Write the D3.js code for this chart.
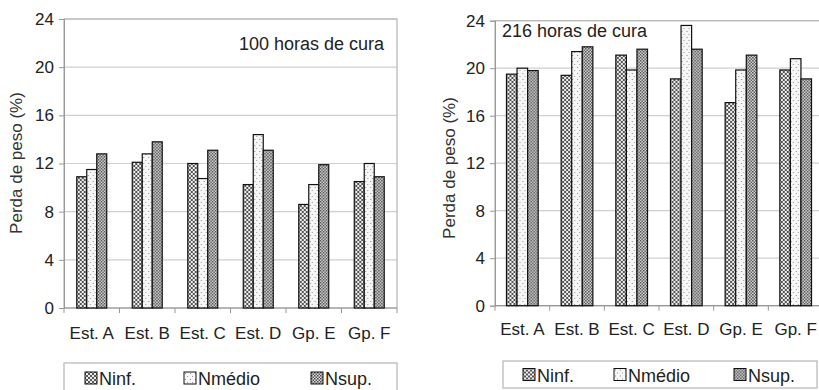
<!DOCTYPE html>
<html>
<head>
<meta charset="utf-8">
<script src="https://cdn.jsdelivr.net/npm/d3@7"></script>
<style>
  body { margin: 0; background: #fff; }
  svg { font-family: "Liberation Sans", Arial, sans-serif; }
  .tick text { fill: #222; }
</style>
</head>
<body>
<div id="chart"></div>
<script>
var width = 819, height = 390;

var categories = ['Est. A', 'Est. B', 'Est. C', 'Est. D', 'Gp. E', 'Gp. F'];
var series = ['Ninf.', 'Nmédio', 'Nsup.'];
var yTicks = [0, 4, 8, 12, 16, 20, 24];

// 100 horas de cura
var ninf100 = [10.9, 12.1, 12.0, 10.25, 8.6, 10.5];
var nmedio100 = [11.5, 12.8, 10.75, 14.4, 10.25, 12.0];
var nsup100 = [12.8, 13.8, 13.1, 13.1, 11.9, 10.9];

// 216 horas de cura
var ninf216 = [19.5, 19.4, 21.1, 19.1, 17.1, 19.85];
var nmedio216 = [20.0, 21.4, 19.85, 23.6, 19.85, 20.8];
var nsup216 = [19.8, 21.8, 21.6, 21.6, 21.1, 19.1];

var font = '"Liberation Sans", Arial, sans-serif';

var svg = d3.select('#chart').append('svg')
  .attr('width', width)
  .attr('height', height);

// hatch fills
var defs = svg.append('defs');
var p1 = defs.append('pattern').attr('id', 'pat0')
  .attr('patternUnits', 'userSpaceOnUse').attr('width', 4).attr('height', 4);
p1.append('rect').attr('width', 4).attr('height', 4).attr('fill', '#eee');
p1.append('path').attr('d', 'M-1,1 L1,-1 M0,4 L4,0 M3,5 L5,3 M-1,3 L1,5 M0,0 L4,4 M3,-1 L5,1')
  .attr('stroke', '#555').attr('stroke-width', 1);

var p2 = defs.append('pattern').attr('id', 'pat1')
  .attr('patternUnits', 'userSpaceOnUse').attr('width', 5).attr('height', 6);
p2.append('rect').attr('width', 5).attr('height', 6).attr('fill', '#f6f6f6');
p2.append('rect').attr('x', 1).attr('y', 1).attr('width', 1).attr('height', 1).attr('fill', '#888');
p2.append('rect').attr('x', 3).attr('y', 4).attr('width', 1).attr('height', 1).attr('fill', '#999');

var p3 = defs.append('pattern').attr('id', 'pat2')
  .attr('patternUnits', 'userSpaceOnUse').attr('width', 3).attr('height', 3);
p3.append('rect').attr('width', 3).attr('height', 3).attr('fill', '#e0e0e0');
p3.append('rect').attr('width', 1.5).attr('height', 1.5).attr('fill', '#444');
p3.append('rect').attr('x', 1.5).attr('y', 1.5).attr('width', 1.5).attr('height', 1.5).attr('fill', '#555');

function drawPanel(cfg) {
  var g = svg.append('g');
  var x = d3.scaleBand().domain(categories)
    .range([cfg.left, cfg.right])
    .paddingInner(cfg.pad).paddingOuter(cfg.pad / 2);
  var x1 = d3.scaleBand().domain(series).range([0, x.bandwidth()]);
  var y = d3.scaleLinear().domain([0, 24]).range([cfg.bottom, cfg.top]);

  // grid
  g.append('g').selectAll('line')
    .data(yTicks.slice(1)).enter()
    .append('line')
      .attr('x1', cfg.left).attr('x2', cfg.right)
      .attr('y1', function(d) {return y(d);})
      .attr('y2', function(d) {return y(d);})
      .attr('stroke', '#cfcfcf').attr('stroke-width', 1.2);

  g.append('rect')
    .attr('x', cfg.left).attr('y', cfg.top)
    .attr('width', cfg.right - cfg.left).attr('height', cfg.bottom - cfg.top)
    .attr('fill', 'none').attr('stroke', '#b5b5b5').attr('stroke-width', 1.2);

  // y axis
  var yAxis = g.append('g')
    .attr('transform', 'translate(' + cfg.left + ',0)')
    .call(d3.axisLeft(y).tickValues(yTicks).tickSize(5).tickPadding(5))
    .attr('font-family', font);
  yAxis.select('.domain').attr('stroke', '#999');
  yAxis.selectAll('.tick line').attr('stroke', '#999');
  yAxis.selectAll('text').attr('font-size', 17);

  // x axis: line, boundary ticks, labels
  g.append('line')
    .attr('x1', cfg.left).attr('x2', cfg.right)
    .attr('y1', cfg.bottom).attr('y2', cfg.bottom)
    .attr('stroke', '#999').attr('stroke-width', 1.2);
  g.append('g').selectAll('line')
    .data(d3.range(categories.length + 1)).enter()
    .append('line')
      .attr('x1', function(i) {return cfg.left + i * x.step();})
      .attr('x2', function(i) {return cfg.left + i * x.step();})
      .attr('y1', cfg.bottom).attr('y2', cfg.bottom + 5)
      .attr('stroke', '#999');
  var xAxis = g.append('g')
    .attr('transform', 'translate(0,' + cfg.bottom + ')')
    .call(d3.axisBottom(x).tickSize(0).tickPadding(cfg.xPad))
    .attr('font-family', font);
  xAxis.select('.domain').remove();
  xAxis.selectAll('text').attr('font-size', 17);

  // bars
  var rows = categories.map(function(c, i) {
    return {cat: c, vals: [cfg.data[0][i], cfg.data[1][i], cfg.data[2][i]]};
  });
  var grp = g.append('g').selectAll('g')
    .data(rows).enter()
    .append('g').attr('transform', function(d) {return 'translate(' + x(d.cat) + ',0)';});
  grp.selectAll('rect')
    .data(function(d) {return d.vals;}).enter()
    .append('rect')
      .attr('x', function(d, i) {return x1(series[i]);})
      .attr('width', x1.bandwidth())
      .attr('y', function(d) {return y(d);})
      .attr('height', function(d) {return y(0) - y(d);})
      .attr('fill', function(d, i) {return 'url(#pat' + i + ')';})
      .attr('stroke', '#111').attr('stroke-width', 1.2);

  // title
  g.append('text')
    .attr('x', cfg.titleX).attr('y', cfg.titleY)
    .attr('text-anchor', cfg.titleAnchor)
    .attr('font-size', 18).attr('fill', '#222')
    .text(cfg.title);

  // y label
  g.append('text')
    .attr('transform', 'translate(' + cfg.labelX + ',' + cfg.labelY + ') rotate(-90)')
    .attr('text-anchor', 'middle')
    .attr('font-size', 17).attr('fill', '#333')
    .text('Perda de peso (%)');

  // legend
  var lg = g.append('g');
  lg.append('rect')
    .attr('x', cfg.legend.x).attr('y', cfg.legend.y)
    .attr('width', cfg.legend.w).attr('height', cfg.legend.h)
    .attr('fill', '#fff').attr('stroke', '#b5b5b5').attr('stroke-width', 1.2);
  var item = lg.selectAll('g')
    .data(series).enter()
    .append('g').attr('transform', function(d, i) {
      return 'translate(' + cfg.legend.items[i] + ',' + (cfg.legend.y + cfg.legend.h / 2) + ')';
    });
  item.append('rect')
    .attr('x', 0).attr('y', -6).attr('width', 12).attr('height', 12)
    .attr('fill', function(d, i) {return 'url(#pat' + i + ')';})
    .attr('stroke', '#111');
  item.append('text')
    .attr('x', 14).attr('y', 7)
    .attr('font-size', 18).attr('fill', '#222')
    .text(function(d) {return d;});
}

drawPanel({
  left: 64, right: 397, top: 19, bottom: 308, pad: 0.46, xPad: 19,
  data: [ninf100, nmedio100, nsup100],
  title: '100 horas de cura', titleX: 384, titleY: 50, titleAnchor: 'end',
  labelX: 22, labelY: 163,
  legend: {x: 64, y: 363, w: 333, h: 30, items: [85, 184, 311]}
});

drawPanel({
  left: 495, right: 823, top: 20.7, bottom: 305.7, pad: 0.42, xPad: 17,
  data: [ninf216, nmedio216, nsup216],
  title: '216 horas de cura', titleX: 502, titleY: 37, titleAnchor: 'start',
  labelX: 455, labelY: 168,
  legend: {x: 503, y: 361, w: 314, h: 27, items: [523, 614, 734]}
});
</script>
</body>
</html>
